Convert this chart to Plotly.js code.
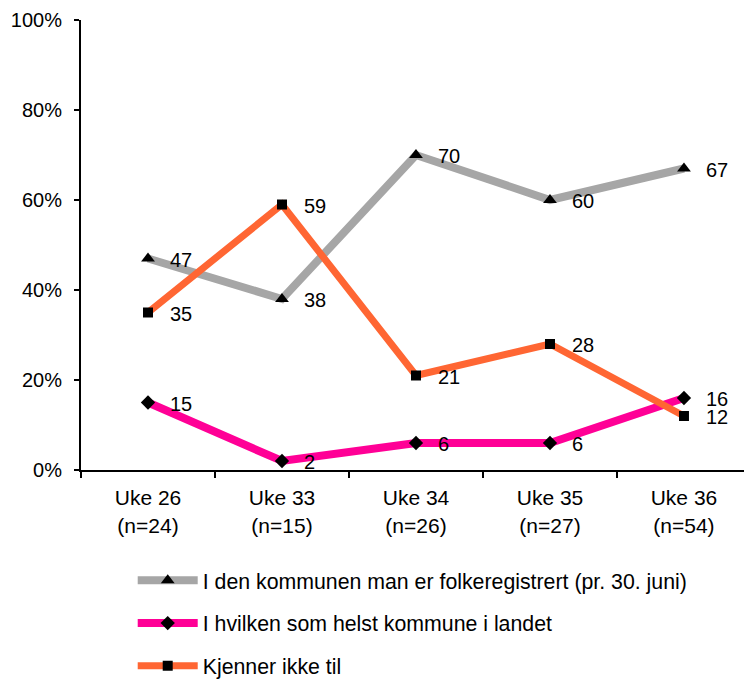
<!DOCTYPE html>
<html>
<head>
<meta charset="utf-8">
<script src="https://cdn.plot.ly/plotly-3.0.1.min.js"></script>
<style>html,body{margin:0;padding:0;background:#fff;}#chart{width:744px;height:681px;}</style>
</head>
<body>
<div id="chart"></div>
<script>
const categories = ["Uke 26<br>(n=24)", "Uke 33<br>(n=15)", "Uke 34<br>(n=26)", "Uke 35<br>(n=27)", "Uke 36<br>(n=54)"];
const seriesNames = ["I den kommunen man er folkeregistrert (pr. 30. juni)", "I hvilken som helst kommune i landet", "Kjenner ikke til"];
const folkeregistrert = [47, 38, 70, 60, 67];
const hvilkenSomHelst = [15, 2, 6, 6, 16];
const kjennerIkke = [35, 59, 21, 28, 12];
const yTicks = [0, 20, 40, 60, 80, 100];

const FONT = "Liberation Sans, Arial, sans-serif";
const styles = [
  {color: "#A6A6A6", symbol: "triangle-up", width: 8, msize: 12},
  {color: "#FF0096", symbol: "diamond", width: 8, msize: 11},
  {color: "#FF6633", symbol: "square", width: 7, msize: 10}
];
const allSeries = [folkeregistrert, hvilkenSomHelst, kjennerIkke];

const traces = allSeries.map((vals, s) => ({
  type: "scatter",
  mode: "lines+markers",
  x: categories,
  y: vals,
  name: seriesNames[s],
  legendgroup: "g" + s,
  line: {color: styles[s].color, width: styles[s].width},
  marker: {color: "#000", symbol: styles[s].symbol, size: styles[s].msize},
  cliponaxis: false
}));

const annotations = [];
allSeries.forEach((vals, s) => {
  vals.forEach((v, i) => {
    annotations.push({
      x: categories[i], y: v, xref: "x", yref: "y",
      text: String(v), showarrow: false,
      xanchor: "left", yanchor: "middle", xshift: 20, yshift: -1,
      font: {family: FONT, size: 20, color: "#000"}
    });
  });
});

const layout = {
  width: 744, height: 681,
  margin: {l: 81, r: 0, t: 20, b: 211, autoexpand: false},
  paper_bgcolor: "#fff", plot_bgcolor: "#fff",
  font: {family: FONT, size: 20, color: "#000"},
  showlegend: true,
  legend: {
    x: 0.078, xanchor: "left", y: -0.2, yanchor: "top",
    traceorder: "grouped", tracegroupgap: 12,
    itemwidth: 60,
    font: {family: FONT, size: 21.3, color: "#000"},
    bgcolor: "rgba(0,0,0,0)"
  },
  xaxis: {
    type: "category",
    range: [-0.5, 4.448],
    showline: true, linecolor: "#000", linewidth: 2,
    ticks: "outside", tickson: "boundaries", ticklen: 6, tickwidth: 2, tickcolor: "#000",
    ticklabelstandoff: 8,
    showgrid: false, zeroline: false,
    tickfont: {family: FONT, size: 21, color: "#000"},
    fixedrange: true
  },
  yaxis: {
    range: [0, 100],
    tickmode: "array", tickvals: yTicks, ticktext: yTicks.map(v => v + "%"),
    showline: true, linecolor: "#000", linewidth: 2,
    ticks: "outside", ticklen: 5, tickwidth: 2, tickcolor: "#000",
    showgrid: false, zeroline: false,
    ticklabelstandoff: 8,
    tickfont: {family: FONT, size: 20, color: "#000"},
    fixedrange: true
  },
  annotations: annotations
};

Plotly.newPlot("chart", traces, layout, {displayModeBar: false, staticPlot: true});
</script>
</body>
</html>
